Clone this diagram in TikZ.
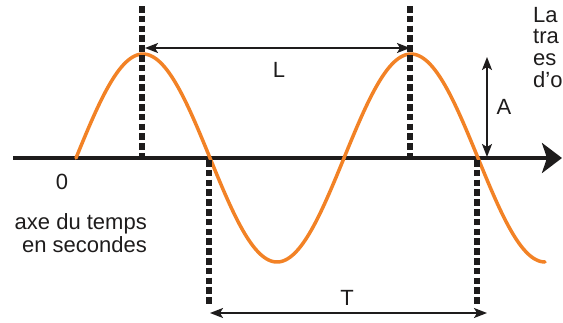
\documentclass[tikz,border=0pt]{standalone}
\usepackage{fontspec}
\setmainfont{Liberation Sans}
\usetikzlibrary{arrows.meta}
\definecolor{wave}{RGB}{242,130,38}
\definecolor{ink}{RGB}{30,28,28}
\begin{document}
\begin{tikzpicture}[x=1pt,y=-1pt,
  axisline/.style={ink,line width=4.5pt,-{Stealth[length=20pt,width=30pt,inset=5pt]}},
  guide/.style={ink,line width=5.5pt,dash pattern=on 6.5pt off 3.3pt},
  dimarrow/.style={ink,line width=1.6pt,{Stealth[length=13pt,width=10pt,inset=3pt]}-{Stealth[length=13pt,width=10pt,inset=3pt]}},
  wavecurve/.style={wave,line width=3.5pt,line cap=round},
  lbl/.style={ink,font=\fontsize{22}{26}\selectfont,inner sep=0pt},
  side/.style={ink,font=\fontsize{22}{24}\selectfont,inner sep=0pt,anchor=base west}]
\useasboundingbox (0,0) rectangle (563,322);
\clip (0,0) rectangle (563,322);
% axis
\coordinate (axL) at (13,158);
\coordinate (axR) at (562,158);
\draw[axisline] (axL) -- (axR);
% wave
\draw[wavecurve] plot[domain=76:545,samples=240,smooth] (\x,{158-104*sin(1.343284*(\x-76))});
% guide lines
\coordinate (g1t) at (142,6);   \coordinate (g1b) at (142,158);
\coordinate (g2t) at (410,6);   \coordinate (g2b) at (410,158);
\coordinate (g3t) at (209,160); \coordinate (g3b) at (209,306);
\coordinate (g4t) at (477,160); \coordinate (g4b) at (477,306);
\draw[guide] (g1t) -- (g1b);
\draw[guide] (g2t) -- (g2b);
\draw[guide] (g3t) -- (g3b);
\draw[guide] (g4t) -- (g4b);
% dimension arrows
\coordinate (La) at (145,48);  \coordinate (Lb) at (410,48);
\coordinate (Aa) at (487,57);  \coordinate (Ab) at (487,157);
\coordinate (Ta) at (210,313); \coordinate (Tb) at (487,313);
\draw[dimarrow] (La) -- (Lb);
\draw[dimarrow] (Aa) -- (Ab);
\draw[dimarrow] (Ta) -- (Tb);
% labels
\node[lbl] (Llbl) at (279,70) {L};
\node[lbl] (Tlbl) at (347,298) {T};
\node[lbl] (Albl) at (504,107) {A};
\node[lbl] (zero) at (62,182) {0};
\node[lbl,anchor=base east] (ax1) at (147,229) {axe du temps};
\node[lbl,anchor=base east] (ax2) at (147,252) {en secondes};
% side text (cut by the frame, as in the reference)
\node[side] (s1) at (533,22) {La};
\node[side] (s2) at (533,43.5) {tra};
\node[side] (s3) at (533,65) {es};
\node[side] (s4) at (533,87.5) {d’o};
\end{tikzpicture}
\end{document}
